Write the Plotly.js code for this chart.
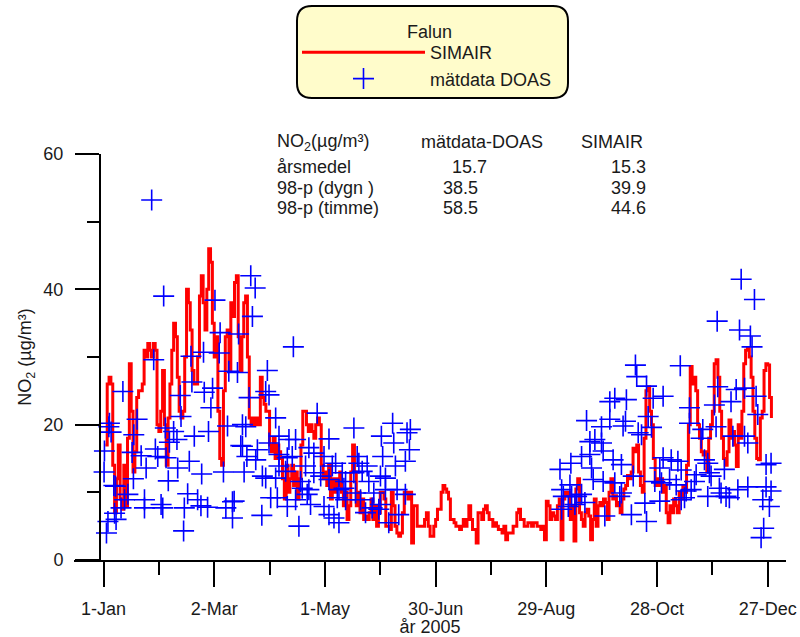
<!DOCTYPE html>
<html><head><meta charset="utf-8">
<script src="https://cdn.plot.ly/plotly-3.0.1.min.js"></script>
<style>html,body{margin:0;padding:0;background:#fff}#chart{width:800px;height:637px}</style>
</head><body><div id="chart"></div>
<script>
// ---- data (day 0 = 1 Jan 2005) ----
const simairStartDay = 1;
const simairNO2 = [
 17, 26, 27, 26, 14, 7, 12, 17, 9,
 7.5, 14, 8, 18, 29, 22, 13, 16, 24, 25,
 25, 26, 31, 30, 32, 31, 30, 32, 31, 20,
 19, 22, 28, 20, 14, 21, 26, 31, 35, 33,
 27, 22, 21, 22, 30, 40, 38, 34, 28, 26,
 26, 30, 39, 42, 38, 34, 40, 46, 44, 35,
 30, 33, 22, 15, 14, 25, 33, 34, 28, 38,
 36, 41, 42, 33, 28, 33, 38, 39, 30, 21,
 20, 21, 20, 21, 20, 27, 24, 23, 22, 22,
 17, 16, 18, 15, 17, 16, 15, 12, 9, 14,
 10, 12, 14, 11, 13, 9, 12, 17, 22, 22,
 20, 19, 20, 19, 18, 20, 21, 20, 14, 12,
 13, 11, 14, 9, 12, 10, 12, 11, 13, 10,
 8, 10, 6, 8, 13, 17, 13, 8, 10, 7,
 9, 6, 6.5, 6, 7, 9, 6, 8, 5, 7,
 10, 10, 9, 5, 5, 4.5, 10, 8, 5, 4,
 3.5, 4, 7, 10, 10, 9, 10, 2.5, 8, 8,
 5, 5, 5, 5, 6, 7, 5, 3.5, 3.5, 5,
 6, 7.5, 7.5, 10, 11, 10.5, 10, 9, 6, 6,
 5.5, 5, 5, 4.5, 5, 6, 5, 6, 8, 6,
 4.5, 4.5, 2.5, 7, 7, 6, 7.5, 8, 7, 6,
 6, 5, 5.5, 5, 4.5, 4.5, 4, 5, 3, 4,
 4, 4, 5, 5, 7, 7.5, 6, 6, 5, 5,
 5.5, 5.5, 5, 5.5, 5.5, 5, 5, 4.5, 5, 3,
 8.7, 8, 6, 7, 6.5, 6, 8, 9, 3, 9,
 10, 9.5, 10, 6, 8, 2.8, 10.5, 12, 7, 6,
 5, 7, 7.5, 6.5, 3, 6, 9, 5, 8, 8.5,
 8, 9, 8.5, 6, 10, 12, 9, 9.5, 8, 8.5,
 7, 9, 10.5, 11, 12.5, 12, 13, 16.5, 16, 17,
 13, 11, 10, 18, 25, 25.6, 22, 20, 15, 11,
 12, 11, 12, 10, 11, 7, 5.5, 8, 7, 9,
 8, 7, 10, 9, 11, 10, 14, 20, 28.6, 26,
 27, 25, 20, 18, 16, 15.5, 16, 13, 18, 20,
 22, 29, 29.6, 27, 22, 18, 15, 14, 16, 20.7,
 18, 19, 17, 13.8, 20, 18, 22, 29, 31, 31.3,
 30, 27, 22, 18, 15, 14.8, 21, 22, 28, 29,
 28.8, 24, 21
];
const doasDay = [
 0.3, 0.5, 1.6, 2.4, 2.9, 3.2, 4.1, 5.6, 6.0, 6.5,
 6.8, 9.5, 10.5, 11.4, 13.2, 15.5, 16.2, 16.4, 18.2, 20.4,
 22.2, 22.2, 23.1, 26.1, 27.2, 28.1, 29.4, 31.2, 32.1, 32.6,
 33.5, 33.9, 35.1, 35.7, 38.0, 39.8, 40.2, 41.6, 42.0, 43.4,
 43.8, 45.6, 46.5, 47.4, 47.9, 49.2, 51.0, 52.8, 53.2, 54.2,
 54.6, 56.4, 56.9, 58.2, 59.1, 60.4, 62.7, 63.2, 65.0, 66.3,
 67.2, 67.9, 69.9, 69.9, 70.8, 72.6, 73.2, 74.4, 75.3, 75.3,
 76.2, 77.1, 77.7, 78.9, 79.8, 80.7, 82.2, 82.5, 83.4, 85.8,
 86.1, 87.9, 87.9, 88.8, 89.7, 89.7, 90.6, 93.3, 93.3, 94.2,
 95.1, 95.1, 95.1, 98.7, 99.6, 99.6, 100.5, 102.3, 102.9, 104.1,
 104.1, 105.9, 106.8, 107.7, 109.5, 110.4, 111.3, 111.3, 112.2, 114.0,
 114.0, 115.8, 117.7, 119.5, 119.5, 122.2, 122.2, 122.2, 124.0, 124.9,
 125.8, 126.7, 127.6, 127.6, 129.4, 130.3, 131.2, 131.2, 135.7, 135.7,
 136.6, 137.5, 138.4, 139.3, 140.2, 142.0, 142.9, 143.8, 145.6, 146.5,
 149.2, 150.1, 150.1, 150.6, 151.3, 152.8, 152.8, 154.6, 156.7, 157.3,
 158.2, 159.1, 160.0, 163.6, 163.6, 164.5, 165.8, 166.3,
 247.4, 248.3, 248.3, 249.2, 251.9, 252.8, 253.3, 253.7, 255.5, 256.4,
 259.1, 259.1, 260.9, 261.8, 263.6, 263.6, 264.5, 265.4, 266.3, 269.9,
 269.9, 270.8, 270.8, 271.7, 274.4, 274.4, 276.2, 277.1, 277.1, 279.8,
 280.7, 280.7, 281.6, 282.9, 283.4, 286.1, 287.1, 288.3, 289.0, 289.8,
 291.6, 293.4, 294.3, 294.3, 295.2, 297.0, 297.9, 298.8, 301.5, 301.5,
 302.4, 303.3, 303.3, 306.8, 307.7, 310.4, 311.3, 312.6, 313.1, 313.1,
 314.9, 315.8, 317.6, 317.6, 318.5, 320.3, 321.2, 323.9, 324.8, 325.7,
 327.5, 327.5, 328.4, 329.3, 331.1, 332.0, 332.6, 332.9, 333.8, 334.7,
 336.5, 337.4, 339.2, 340.1, 341.1, 342.9, 343.8, 344.7, 345.6, 347.4,
 347.4, 349.2, 349.2, 350.6, 351.5, 352.8, 353.7, 354.6, 356.4, 357.3,
 357.8, 359.1, 359.1, 360.9, 361.8, 361.8
];
const doasNO2 = [
 13.0, 16.1, 4.0, 5.7, 19.7, 20.2, 18.9, 11.0, 6.9, 10.9,
 6.0, 7.7, 24.9, 8.9, 9.7, 15.9, 12.0, 18.5, 20.8, 15.4,
 8.9, 7.7, 13.6, 53.2, 29.6, 16.4, 15.3, 8.2, 7.7, 39.0,
 19.5, 15.1, 11.7, 17.4, 19.0, 17.8, 13.6, 24.3, 21.2, 4.3,
 7.7, 9.8, 14.6, 30.1, 26.3, 18.3, 8.9, 8.0, 12.7, 30.7,
 24.8, 7.8, 19.0, 22.5, 25.4, 38.4, 30.6, 33.6, 13.0, 7.7,
 19.8, 27.9, 8.6, 6.2, 8.7, 27.7, 33.4, 16.9, 20.0, 16.8,
 13.0, 19.7, 15.3, 24.0, 42.0, 36.0, 40.2, 14.8, 16.3, 6.6,
 12.4, 12.1, 24.9, 28.0, 17.3, 24.4, 9.2, 21.0, 12.1, 9.2,
 18.3, 15.6, 13.9, 13.1, 15.1, 7.9, 17.8, 15.3, 31.5, 17.8,
 8.9, 5.0, 11.6, 10.6, 13.9, 9.7, 16.6, 10.4, 8.2, 15.8,
 12.9, 21.7, 12.4, 15.3, 7.9, 17.9, 11.9, 6.7, 13.9, 6.2,
 14.3, 9.2, 10.4, 5.5, 12.9, 10.6, 11.6, 8.9, 19.5, 12.9,
 9.9, 15.3, 14.3, 8.9, 13.1, 7.0, 13.9, 11.6, 7.7, 9.9,
 7.5, 12.4, 8.2, 18.3, 15.3, 12.1, 10.4, 5.5, 20.2, 17.3,
 13.9, 10.4, 6.7, 14.6, 9.7, 18.8, 16.3, 19.3,
 13.4, 10.4, 7.5, 9.4, 7.9, 11.1, 14.3, 9.4, 8.2, 9.4,
 9.7, 15.3, 8.5, 20.6, 17.5, 15.6, 13.6, 11.9, 17.8, 19.7,
 17.3, 16.1, 11.6, 6.5, 23.4, 20.8, 14.8, 23.9, 11.4, 9.4,
 14.1, 9.9, 19.8, 20.5, 23.7, 6.7, 12.4, 28.8, 27.1, 18.8,
 18.5, 8.4, 25.7, 5.7, 21.2, 19.6, 23.9, 11.6, 13.6, 8.7,
 11.4, 24.2, 15.1, 11.9, 14.8, 11.1, 14.6, 28.7, 13.3, 8.9,
 9.2, 10.2, 22.5, 20.2, 10.4, 11.6, 12.6, 18.0, 19.3, 14.8,
 14.3, 9.4, 12.9, 12.4, 22.9, 19.7, 35.3, 25.6, 10.6, 9.9,
 13.4, 9.4, 9.2, 23.4, 18.3, 25.2, 10.4, 34.0, 41.5, 25.4,
 18.3, 17.3, 10.8, 33.1, 31.5, 38.5, 24.2, 21.5, 3.3, 8.9,
 4.7, 14.1, 10.8, 7.9, 14.3, 10.2
];
const xTickVals = [0, 60, 120, 180, 240, 300, 360];
const xTickText = ['1-Jan', '2-Mar', '1-May', '30-Jun', '29-Aug', '28-Oct', '27-Dec'];
const xMinorVals = [30, 90, 150, 210, 270, 330];
const xTitle = 'år 2005';
const yTickVals = [0, 20, 40, 60];
const yMinorVals = [10, 30, 50];
const statHeader = ['NO<sub>2</sub>(µg/m³)', 'mätdata-DOAS', 'SIMAIR'];
const statRows = ['årsmedel', '98-p (dygn )', '98-p (timme)'];
const statDoas = ['15.7', '38.5', '58.5'];
const statSimair = ['15.3', '39.9', '44.6'];
const legendTitle = 'Falun';

// ---- layout helpers (pixel -> paper) ----
const L = 74, R = 786, T = 154, B = 560;
const px = p => (p - L) / (R - L);
const py = p => (B - p) / (B - T);
const FONT = 'Liberation Sans, Arial, sans-serif';
const TXT = '#1a1a1a';

function roundRect(x0, y0, x1, y1, r) {
  const P = (x, y) => px(x).toFixed(5) + ',' + py(y).toFixed(5);
  return 'M' + P(x0 + r, y0) + ' L' + P(x1 - r, y0) + ' Q' + P(x1, y0) + ' ' + P(x1, y0 + r) +
    ' L' + P(x1, y1 - r) + ' Q' + P(x1, y1) + ' ' + P(x1 - r, y1) +
    ' L' + P(x0 + r, y1) + ' Q' + P(x0, y1) + ' ' + P(x0, y1 - r) +
    ' L' + P(x0, y0 + r) + ' Q' + P(x0, y0) + ' ' + P(x0 + r, y0) + ' Z';
}

const traces = [
  {
    type: 'scatter', mode: 'lines', name: 'SIMAIR',
    x0: simairStartDay, dx: 1, y: simairNO2,
    line: {color: '#ff0000', width: 3, shape: 'hv'}
  },
  {
    type: 'scatter', mode: 'markers', name: 'mätdata DOAS',
    x: doasDay, y: doasNO2,
    marker: {symbol: 'cross-thin-open', size: 15, color: '#0000ff', line: {color: '#0000ff', width: 1.6}}
  }
];

const ann = [];
const colLeft = [275, 419, 579];
statHeader.forEach((t, i) => ann.push({text: t, x: px(colLeft[i]), y: py(142), xanchor: 'left'}));
const rowY = [167, 188, 208];
statRows.forEach((t, i) => {
  ann.push({text: t, x: px(275), y: py(rowY[i]), xanchor: 'left'});
  ann.push({text: statDoas[i], x: px(i === 0 ? 450 : 441), y: py(rowY[i]), xanchor: 'left'});
  ann.push({text: statSimair[i], x: px(648), y: py(rowY[i]), xanchor: 'right'});
});
ann.push({text: legendTitle, x: px(429), y: py(32), xanchor: 'center'});
ann.forEach(a => {
  a.xref = 'paper'; a.yref = 'paper'; a.yanchor = 'middle'; a.showarrow = false;
  a.font = {family: FONT, size: 18, color: TXT};
});

const layout = {
  width: 800, height: 637,
  margin: {l: L, r: 800 - R, t: T, b: 637 - B},
  paper_bgcolor: '#ffffff', plot_bgcolor: '#ffffff',
  font: {family: FONT, size: 18, color: TXT},
  showlegend: true,
  legend: {
    x: px(297), y: py(34), xanchor: 'left', yanchor: 'top',
    bgcolor: 'rgba(0,0,0,0)', borderwidth: 0,
    font: {family: FONT, size: 18, color: TXT},
    itemwidth: 123, tracegroupgap: 0
  },
  xaxis: {
    range: [-16, 369.9], showgrid: false, zeroline: false,
    showline: true, linecolor: '#000', linewidth: 2,
    tickmode: 'array', tickvals: xTickVals, ticktext: xTickText,
    ticks: 'outside', ticklen: 25, tickwidth: 2, tickcolor: '#000',
    ticklabelstandoff: 6,
    tickfont: {family: FONT, size: 18, color: TXT},
    minor: {tickmode: 'array', tickvals: xMinorVals, ticks: 'outside', ticklen: 13, tickwidth: 2, tickcolor: '#000', showgrid: false},
    title: {text: xTitle, font: {family: FONT, size: 18, color: TXT}, standoff: 0}
  },
  yaxis: {
    range: [0, 60], anchor: 'free', position: px(100),
    showgrid: false, zeroline: false,
    showline: true, linecolor: '#000', linewidth: 2,
    tickmode: 'array', tickvals: yTickVals,
    ticks: 'outside', ticklen: 24, tickwidth: 2, tickcolor: '#000',
    ticklabelstandoff: 8,
    tickfont: {family: FONT, size: 18, color: TXT},
    minor: {tickmode: 'array', tickvals: yMinorVals, ticks: 'outside', ticklen: 12, tickwidth: 2, tickcolor: '#000', showgrid: false},
    title: {text: 'NO<sub>2</sub> (µg/m³)', font: {family: FONT, size: 18, color: TXT}, standoff: 6}
  },
  shapes: [{
    type: 'path', xref: 'paper', yref: 'paper', layer: 'below',
    path: roundRect(297, 6, 568, 98, 15),
    fillcolor: '#fffccb', line: {color: '#000', width: 2}
  }],
  annotations: ann
};

Plotly.newPlot('chart', traces, layout, {displayModeBar: false, staticPlot: true});
</script>
</body></html>
